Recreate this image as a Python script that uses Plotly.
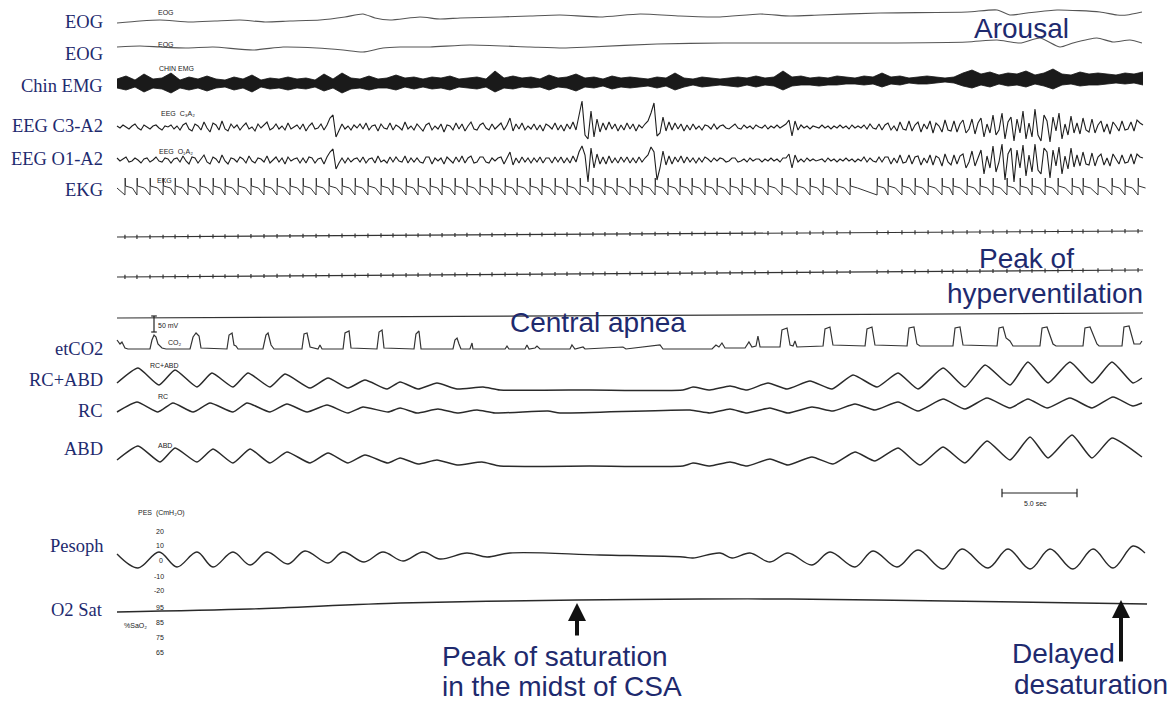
import numpy as np
import plotly.graph_objects as go

# ---------------- canvas / time scale ----------------
W, H = 1168, 701
PX_PER_SEC = 15          # chart speed (5.0 sec bar = 75 px)
T0_PX = 117              # left edge of the tracings

# ---------------- data (deflections, upward positive) ----------------
EOG1_T = [0, 1.53, 2.87, 4.87, 6.53, 8.2, 9.87, 11.53, 13.53, 15.2, 16.4, 17.2, 18.2, 20.2, 21.53,
          22.87, 25.53, 27.53, 29.53, 32.2, 34.87, 37.53, 40.2, 42.87, 44.87, 46.87, 50.87, 56.67,
          58.67, 59.53, 60.67, 62.67, 65.53, 66.67, 67.33, 68.33]
EOG1_V = [-3, -1, 0, -2, -1, 0, -2, -1, 0, 3, 6, 2, 0, 3, 1, 2, 3, 4, 5, 3, 6, 4, 3, 6, 4, 5, 7, 8,
          10, 5, 7, 10, 8, 5, 5, 8]

EOG2_T = [0, 1.53, 2.87, 4.67, 6.4, 9.07, 11.07, 13.33, 15.07, 16.4, 17.73, 18.87, 20.87, 23.53,
          27.53, 29.73, 31.53, 36.0, 40.4, 44.87, 50.87, 56.67, 58.67, 60.2, 61.53, 62.87, 63.73,
          65.33, 66.4, 67.53, 68.33]
EOG2_V = [0, 1, 0, -1, 0, -3, 0, -1, -3, -5, -1, 0, 0, 2, 0, -1, 0, 3, 4, 4, 4, 5, 7, 4, 9, 0, 4,
          9, 5, 7, 4]

EMG_DT = 0.6
EMG_TOP = [2, 5, 1, 7, 2, 3, 8, 1, 4, 2,
           5, 2, 1, 4, 2, 6, 1, 3, 2, 4,
           2, 3, 1, 7, 2, 8, 3, 2, 5, 2,
           3, 6, 3, 4, 2, 4, 3, 5, 2, 3,
           4, 2, 10, 3, 5, 3, 4, 2, 6, 3,
           4, 7, 3, 4, 2, 5, 3, 4, 3, 2,
           4, 3, 8, 3, 2, 4, 3, 2, 3, 4,
           3, 5, 3, 4, 10, 4, 5, 3, 4, 3,
           5, 4, 3, 5, 4, 8, 4, 5, 3, 4,
           5, 4, 3, 4, 8, 11, 7, 9, 6, 8,
           7, 10, 6, 8, 12, 7, 6, 9, 7, 8,
           7, 6, 8, 7, 9]
EMG_BOT = [-7, -9, -6, -11, -7, -8, -12, -7, -9, -7,
           -10, -7, -6, -9, -7, -11, -6, -8, -7, -9,
           -7, -8, -6, -10, -7, -12, -8, -7, -9, -7,
           -7, -9, -6, -8, -6, -8, -7, -9, -6, -7,
           -8, -6, -11, -7, -8, -6, -7, -6, -9, -6,
           -7, -10, -6, -7, -5, -8, -6, -7, -6, -5,
           -7, -5, -9, -6, -4, -6, -5, -4, -5, -6,
           -4, -6, -4, -5, -9, -5, -4, -4, -5, -4,
           -4, -3, -3, -4, -3, -6, -3, -4, -2, -3,
           -3, -2, -1, -2, -5, -7, -4, -6, -3, -5,
           -4, -6, -3, -5, -8, -4, -3, -5, -4, -4,
           -3, -2, -3, -2, -4]

EEG_DT = 0.2
EEG_C3 = [1, -1, 2, 0, -2, 1, 3, -1, -3, 2, 0, -2, 1, 2, -1, -3, 1, 0, 2, -2,
          1, -3, 2, 4, -2, -4, 3, 1, -3, 5, -1, -5, 4, 2, -3, 6, -2, -4, 3, -1,
          2, -3, 1, 4, -2, 0, -4, 3, -1, 2, 5, -3, -1, 3, -2, 1, -3, 4, -2, 0,
          2, -2, 3, -4, 1, 4, -2, -1, 3, -3, 2, 9, 12, -10, -4, 3, -2, 1, -3, 2,
          -1, 3, -2, 4, -3, 1, 2, -4, 3, -1, -2, 4, -3, 2, 0, -3, 5, -2, 1, -3,
          3, -1, -4, 2, 4, -3, 1, -2, 3, -5, 2, 1, -3, 4, -2, 3, -4, 1, 5, -2,
          -3, 2, 4, -1, -3, 3, -2, 1, 4, -3, 2, 9, -4, 3, -2, 4, -3, 1, -2, 3,
          -3, 2, -4, 3, 1, -2, 4, -3, 2, -4, 3, -2, 5, -3, 10, 26, -8, -12, 16, -10,
          8, -5, 4, -3, 5, -2, 3, -4, 2, -3, 4, -2, 3, -4, 2, -1, 3, 6, 14, 24,
          -9, -6, 10, -4, 5, -3, 4, -2, 3, -4, 2, -3, 3, -2, 1, -3, 2, 1, -2, 3,
          -2, 1, 2, -1, -2, 1, 3, -1, -2, 2, -1, 1, -2, 2, 0, -1, 2, -2, 1, -1,
          2, -1, 1, 3, 7, -9, 6, -3, 2, -1, 1, -2, 1, 0, -1, 2, -1, 1, -2, 1,
          -1, 2, -1, 1, -2, 2, -1, 1, -1, 2, -2, 3, -1, -2, 3, -3, 2, 4, -3, 1,
          -4, 5, -2, -3, 6, -4, 2, 5, -5, 3, -2, 6, -6, 4, 1, -5, 7, -3, -4, 6,
          -5, 3, 7, -6, -2, 8, -7, 4, 9, -10, 3, -6, 12, -8, -3, 14, -12, 5, 10, -14,
          8, -6, 16, -12, 4, -10, 18, -8, -14, 12, 6, -15, 10, -4, 14, -12, 3, -8, 11, -6,
          4, -7, 9, -3, -5, 8, -6, 2, 6, -5, 3, -7, 5, 1, -4, 6, -3, -2, 5, -4,
          7, 4, 2]
EEG_O1 = [2, -1, 1, 3, -2, -1, 2, 0, -3, 1, 2, -2, 0, 3, -1, -2, 2, 1, -3, 1,
          2, -2, 4, -1, -4, 3, 2, -3, 1, 5, -2, -4, 3, 1, -3, 5, -1, -4, 2, 1,
          -2, 3, 1, -3, 4, -1, -3, 2, 1, -2, 4, -3, 0, 3, -2, 2, -4, 3, -1, 1,
          2, -3, 2, -3, 3, 2, -3, 1, 2, -4, 3, 8, 11, -9, -3, 2, -3, 2, -2, 1,
          2, -2, 3, -3, 1, 2, -3, 4, -2, 0, -3, 3, -2, 3, -1, -2, 4, -3, 2, -2,
          2, -2, -3, 3, 3, -4, 2, -1, 2, -4, 3, 0, -3, 3, -2, 4, -3, 2, 4, -3,
          -2, 3, 3, -2, -3, 2, -1, 2, 3, -4, 2, 8, -5, 2, -3, 3, -2, 2, -3, 2,
          -2, 3, -3, 2, 2, -3, 3, -2, 3, -3, 2, -3, 4, -2, 8, 14, 5, -22, 12, -8,
          6, -4, 3, -4, 4, -3, 2, -3, 3, -2, 3, -3, 2, -3, 3, -2, 2, 5, 13, 8,
          -20, -8, 9, -5, 4, -4, 3, -2, 4, -3, 3, -2, 2, -3, 2, -2, 3, 1, -2, 2,
          -1, 2, 1, -2, -1, 2, 2, -2, -1, 1, -2, 2, -1, 1, 1, -2, 1, -1, 2, -1,
          1, -2, 2, 2, 6, -8, 5, -2, 1, -2, 2, -1, 1, -1, 0, 1, -2, 2, -1, 1,
          -2, 1, -1, 2, -1, 1, -2, 1, -1, 3, -2, 2, -1, -2, 3, -2, 3, 3, -4, 2,
          -3, 5, -3, -2, 5, -4, 3, 4, -5, 2, -3, 5, -5, 4, 2, -6, 6, -2, -5, 5,
          -4, 4, 6, -8, -2, 9, -6, 3, 10, -14, 4, -8, 14, -12, -2, 16, -20, 6, 12, -22,
          10, -8, 15, -16, 5, -12, 16, -10, -14, 12, 8, -18, 10, -6, 13, -14, 4, -9, 12, -7,
          5, -6, 8, -4, -5, 7, -6, 3, 6, -5, 2, -6, 6, 1, -4, 5, -3, -2, 6, -4,
          6, 3, 2]

EKG_BEATS = [0.53, 1.33, 2.2, 3.07, 3.87, 4.73, 5.53, 6.4, 7.2, 8.07, 8.93, 9.8, 10.67, 11.53,
             12.4, 13.27, 14.13, 15.0, 15.87, 16.73, 17.6, 18.4, 19.27, 20.07, 20.87, 21.67,
             22.53, 23.33, 24.2, 25.0, 25.87, 26.67, 27.53, 28.33, 29.2, 30.0, 30.87, 31.73,
             32.53, 33.33, 34.2, 35.0, 35.87, 36.73, 37.53, 38.33, 39.2, 40.0, 40.87, 41.67,
             42.53, 43.4, 44.33, 45.33, 46.2, 47.07, 48.0, 48.87, 50.67, 51.4, 52.33, 53.2,
             54.07, 55.0, 55.73, 56.67, 57.53, 58.4, 59.33, 60.2, 61.0, 61.87, 62.73, 63.67,
             64.4, 65.4, 66.33, 67.2, 68.07]
EKG_BEAT_DT = [0.0, 0.015, 0.035, 0.5]     # one complex: upstroke, R tip, return, plateau end
EKG_BEAT_V = [-7, 10, 2, 0]

LINE_T = [0, 68.4]
LINE_A_V = [0, 6]
LINE_B_V = [0, 7]
LINE_C_V = [0, 5]

CO2_T = [0, 0.2, 0.33, 0.53, 0.73,
         2.2, 2.33, 2.47, 2.6, 2.73, 3.0, 3.27,
         4.87, 5.07, 5.27, 5.47, 5.6,
         7.33, 7.47, 7.67, 7.8, 7.93, 8.07,
         9.73, 9.93, 10.07, 10.27, 10.47,
         12.33, 12.47, 12.67, 12.87, 13.4, 13.53, 13.67,
         15.07, 15.2, 15.47, 15.6,
         17.33, 17.47, 17.67, 17.8,
         19.8, 19.93, 20.13, 20.27,
         22.4, 22.53, 22.67, 22.8, 22.93,
         23.53, 23.67, 23.73,
         25.87, 26.0, 26.13, 27.2, 27.33, 27.47, 27.87, 28.0, 28.2,
         30.2, 30.33, 30.53, 31.07, 31.2, 33.73, 33.93, 36.2, 36.4,
         39.67, 39.93, 40.13, 40.33, 40.53,
         41.87, 42.13, 42.33, 42.6, 42.73, 42.87,
         44.2, 44.33, 44.67, 44.87, 45.07, 45.2, 45.33,
         47.07, 47.2, 47.53, 47.73,
         49.87, 50.0, 50.33, 50.53,
         52.67, 52.8, 53.13, 53.33, 53.53,
         55.73, 55.87, 56.2, 56.4,
         58.67, 58.8, 59.07, 59.27, 59.53, 59.73,
         61.53, 61.67, 62.0, 62.4, 62.6,
         64.4, 64.53, 64.87, 65.33, 65.47,
         67.0, 67.13, 67.47, 67.8, 68.2, 68.33]
CO2_V = [9, 5, 7, 1, 0,
         0, 9, 14, 12, 5, 1, 0,
         0, 12, 16, 13, 1,
         0, 14, 16, 4, 3, 0,
         0, 14, 16, 4, 0,
         0, 15, 16, 2, 0, 4, 0,
         0, 16, 18, 1,
         0, 17, 19, 1,
         0, 15, 18, 0,
         0, 9, 11, 5, 0,
         0, 6, 0,
         0, 3, 0, 0, 4, 0, 1, 3, 0,
         0, 4, 0, 2, 0, 2, 0, 4, 0,
         0, 4, 2, 6, 1,
         1, 7, 2, 3, 13, 2,
         2, 19, 21, 4, 3, 8, 2,
         3, 20, 22, 4,
         3, 20, 22, 4,
         3, 21, 22, 5, 3,
         3, 21, 22, 4,
         3, 21, 22, 11, 8, 3,
         3, 21, 22, 5, 3,
         3, 21, 22, 5, 3,
         3, 22, 23, 5, 5, 8]

RCABD_T = [0, 1.4, 2.8, 3.87, 5.33, 6.33, 7.73, 8.73, 10.2, 11.2, 12.87, 14.07, 15.4, 16.53, 18.0,
           18.87, 20.07, 21.33, 22.67, 24.4, 25.53, 31.5, 37.73, 38.4, 39.53, 40.87, 42.0, 43.4,
           44.67, 46.2, 47.67, 49.07, 50.67, 52.07, 53.4, 55.07, 56.53, 57.87, 59.53, 60.73,
           62.07, 63.53, 65.0, 66.33, 67.73, 68.33]
RCABD_V = [-3, 12, -5, 10, -7, 7, -7, 7, -7, 6, -8, 2, -8, 0, -9, -2, -9, -3, -9, -7, -10, -10,
           -10, -7, -10, -6, -10, -3, -9, -1, -9, 5, -7, 7, -9, 12, -7, 15, -5, 18, -3, 18, -3,
           18, -3, 2]

RC_T = [0, 1.33, 2.73, 3.73, 5.07, 6.2, 7.73, 8.67, 10.2, 11.33, 12.67, 14.0, 15.4, 16.4, 18.07,
        18.87, 20.0, 21.4, 22.67, 24.0, 25.2, 28.73, 29.53, 38.2, 39.53, 40.87, 42.0, 43.53, 44.73,
        46.33, 47.73, 49.2, 50.53, 52.07, 53.4, 55.07, 56.53, 58.0, 59.53, 60.73, 62.0, 63.53,
        65.0, 66.4, 67.73, 68.33]
RC_V = [-2, 8, -2, 7, -2, 7, -2, 7, -2, 6, -2, 5, -3, 3, -2, 2, -3, 1, -3, 0, -3, -1, -3, 0, -3,
        1, -3, 2, -3, 3, -1, 6, 0, 8, -1, 11, 1, 12, 2, 11, 2, 12, 2, 13, 4, 7]

ABD_T = [0, 1.4, 2.87, 3.87, 5.33, 6.4, 7.73, 8.87, 10.2, 11.33, 12.87, 14.07, 15.4, 16.53, 18.07,
         18.87, 20.07, 21.33, 22.67, 24.33, 25.53, 31.5, 37.73, 38.4, 39.53, 40.87, 42.0, 43.53,
         44.73, 46.33, 47.73, 49.2, 50.53, 52.07, 53.53, 55.07, 56.53, 58.0, 59.53, 60.87, 62.07,
         63.67, 65.0, 66.33, 68.33]
ABD_V = [-2, 12, -4, 10, -4, 9, -5, 9, -5, 6, -5, 5, -5, 3, -5, 0, -6, -2, -7, -4, -8, -8, -8,
         -5, -8, -4, -8, -1, -7, 1, -6, 6, -3, 10, -7, 11, -5, 17, -2, 21, 0, 23, 0, 20, 1]

PES_T = [0, 1.4, 2.8, 4.0, 5.33, 6.4, 7.73, 8.87, 10.0, 11.4, 12.53, 14.07, 15.07, 16.47, 17.73,
         19.07, 20.4, 21.53, 23.33, 24.67, 26.2, 32.2, 37.73, 38.4, 40.2, 41.0, 42.2, 43.53,
         44.73, 46.33, 47.53, 49.2, 50.4, 52.0, 53.4, 55.07, 56.33, 58.07, 59.4, 60.87, 62.2,
         63.73, 65.07, 66.4, 67.73, 68.53]
PES_V = [6, -8, 8, -7, 8, -7, 8, -5, 8, -4, 9, -3, 8, -2, 8, -1, 8, 1, 7, 3, 7, 5, 3, 2, 7, 2, 7,
         -2, 7, -5, 8, -7, 9, -7, 10, -9, 11, -8, 11, -9, 11, -9, 11, -8, 14, 7]

SAT_T = [0, 8.87, 18.87, 30.67, 38.87, 44.87, 55.33, 68.67]
SAT_V = [-7, -4, 2, 5, 6, 6, 4, 1]

SCALE_BAR_SEC = 5.0

# ---------------- layout constants (pixel rows of each channel) ----------------
BASE = dict(eog1=20, eog2=47, emg=81, c3=127, o1=160, ekg=188, la=237, lb=277, lc=318,
            co2=349, rcabd=380, rc=410, abd=458, pes=560, sat=605)
INK = "#2a2a2a"
NAVY = "#1e2a6e"

fig = go.Figure()


def trace(t, v, base, width=1.3, color=INK, shape="linear", smoothing=None, **kw):
    line = dict(color=color, width=width, shape=shape)
    if smoothing is not None:
        line["smoothing"] = smoothing
    fig.add_trace(go.Scatter(x=list(t), y=list(base - np.asarray(v, float)), mode="lines",
                             line=line, hoverinfo="skip", showlegend=False, **kw))


# EOG
trace(EOG1_T, EOG1_V, BASE["eog1"], width=1.1, color="#555555", shape="spline", smoothing=0.6)
trace(EOG2_T, EOG2_V, BASE["eog2"], width=1.1, color="#555555", shape="spline", smoothing=0.6)

# Chin EMG as a dense band
emg_t = np.arange(len(EMG_TOP)) * EMG_DT
trace(emg_t, EMG_BOT, BASE["emg"], width=0.8, color="#151515")
trace(emg_t, EMG_TOP, BASE["emg"], width=0.8, color="#151515", fill="tonexty",
      fillcolor="#1a1a1a")

# EEG
trace(np.arange(len(EEG_C3)) * EEG_DT, EEG_C3, BASE["c3"], width=1.1, color="#1e1e1e")
trace(np.arange(len(EEG_O1)) * EEG_DT, EEG_O1, BASE["o1"], width=1.1, color="#1e1e1e")

# EKG built from beat times and one complex
ekg_t, ekg_v = [0.0], [0.0]
for b in EKG_BEATS:
    for dt, v in zip(EKG_BEAT_DT, EKG_BEAT_V):
        ekg_t.append(b + dt)
        ekg_v.append(v)
trace(ekg_t, ekg_v, BASE["ekg"], width=1.0, color="#333333")

# three unlabeled flat channels with pulse ticks
for key, vals in (("la", LINE_A_V), ("lb", LINE_B_V), ("lc", LINE_C_V)):
    trace(LINE_T, vals, BASE[key], width=1.2, color="#333333")
for key, vals in (("la", LINE_A_V), ("lb", LINE_B_V)):
    yv = BASE[key] - np.interp(EKG_BEATS, LINE_T, vals)
    fig.add_trace(go.Scatter(x=EKG_BEATS, y=list(yv), mode="markers",
                             marker=dict(symbol="line-ns", size=3,
                                         line=dict(width=1.2, color="#333333")),
                             hoverinfo="skip", showlegend=False))

# etCO2, respiration, Pes, SaO2
trace(CO2_T, CO2_V, BASE["co2"], width=1.2, color="#333333")
trace(RCABD_T, RCABD_V, BASE["rcabd"], width=1.5, shape="spline", smoothing=0.5)
trace(RC_T, RC_V, BASE["rc"], width=1.5, shape="spline", smoothing=0.5)
trace(ABD_T, ABD_V, BASE["abd"], width=1.5, shape="spline", smoothing=0.5)
trace(PES_T, PES_V, BASE["pes"], width=1.4, shape="spline", smoothing=1.0)
trace(SAT_T, SAT_V, BASE["sat"], width=1.4, shape="spline", smoothing=0.8)

# 5.0 sec scale bar
bar_t0 = (1002 - T0_PX) / PX_PER_SEC
fig.add_trace(go.Scatter(x=[bar_t0, bar_t0 + SCALE_BAR_SEC], y=[493, 493], mode="lines+markers",
                         line=dict(color="#222222", width=1.2),
                         marker=dict(symbol="line-ns", size=6, line=dict(width=1.2, color="#222222")),
                         hoverinfo="skip", showlegend=False))

# 50 mV calibration mark
cal_t = (154 - T0_PX) / PX_PER_SEC
fig.add_trace(go.Scatter(x=[cal_t, cal_t], y=[316, 332], mode="lines+markers",
                         line=dict(color="#222222", width=1.2),
                         marker=dict(symbol="line-ew", size=4, line=dict(width=1.2, color="#222222")),
                         hoverinfo="skip", showlegend=False))

annotations = []


def note(text, x, y, size, color=NAVY, family="Liberation Sans", xanchor="center",
         yanchor="middle", **kw):
    annotations.append(dict(text=text, x=x / W, y=1 - y / H, xref="paper", yref="paper",
                            showarrow=False, xanchor=xanchor, yanchor=yanchor,
                            font=dict(size=size, color=color, family=family), **kw))


# channel labels
LABELS = [("EOG", 22), ("EOG", 54), ("Chin EMG", 86), ("EEG C3-A2", 126), ("EEG O1-A2", 159),
          ("EKG", 190), ("etCO2", 349), ("RC+ABD", 380), ("RC", 411), ("ABD", 449),
          ("Pesoph", 546), ("O2 Sat", 610)]
for txt, yy in LABELS:
    note(txt, 105, yy, 18.5, family="Liberation Serif", xanchor="right")

# tiny in-trace labels
SMALL = [("EOG", 166, 12), ("EOG", 166, 44), ("CHIN EMG", 176, 69),
         ("EEG  C₃A₂", 178, 114), ("EEG  O₁A₂", 176, 151),
         ("EKG", 164, 180), ("50 mV", 168, 325), ("CO₂", 175, 342),
         ("RC+ABD", 164, 366), ("RC", 163, 397), ("ABD", 165, 445),
         ("PES  (CmH₂O)", 161, 513),
         ("20", 160, 531), ("10", 160, 545), ("0", 161, 560), ("-10", 159, 576), ("-20", 159, 590),
         ("95", 160, 607), ("85", 160, 622), ("75", 160, 637), ("65", 160, 652),
         ("%SaO₂", 135, 625), ("5.0 sec", 1035, 503)]
for txt, xx, yy in SMALL:
    note(txt, xx, yy, 7, color="#222222", family="Liberation Sans")

# blue commentary
BIG = [("Arousal", 972, 28), ("Peak of", 977, 258), ("hyperventilation", 945, 293),
       ("Central apnea", 508, 322), ("Peak of saturation", 440, 656),
       ("in the midst of CSA", 440, 686), ("Delayed", 1010, 653), ("desaturation", 1012, 684)]
for txt, xx, yy in BIG:
    note(txt, xx, yy, 28, xanchor="left")

# arrows
for x_px, tip, tail in ((577, 603, 637), (1121, 600, 663)):
    annotations.append(dict(text="", x=x_px / W, y=1 - tip / H, xref="paper", yref="paper",
                            showarrow=True, ax=0, ay=tail - tip, arrowhead=2, arrowsize=0.9,
                            arrowwidth=4, arrowcolor="#111111", standoff=0))

fig.update_layout(
    width=W, height=H, margin=dict(l=0, r=0, t=0, b=0),
    paper_bgcolor="white", plot_bgcolor="white",
    xaxis=dict(range=[(0 - T0_PX) / PX_PER_SEC, (W - T0_PX) / PX_PER_SEC], visible=False,
               fixedrange=True),
    yaxis=dict(range=[H, 0], visible=False, fixedrange=True),
    annotations=annotations,
)

fig.write_html("out.html")
with open("out.html", encoding="utf-8") as f:
    html = f.read()
html = html.replace("<body>", '<body style="margin:0">', 1)
with open("out.html", "w", encoding="utf-8") as f:
    f.write(html)
